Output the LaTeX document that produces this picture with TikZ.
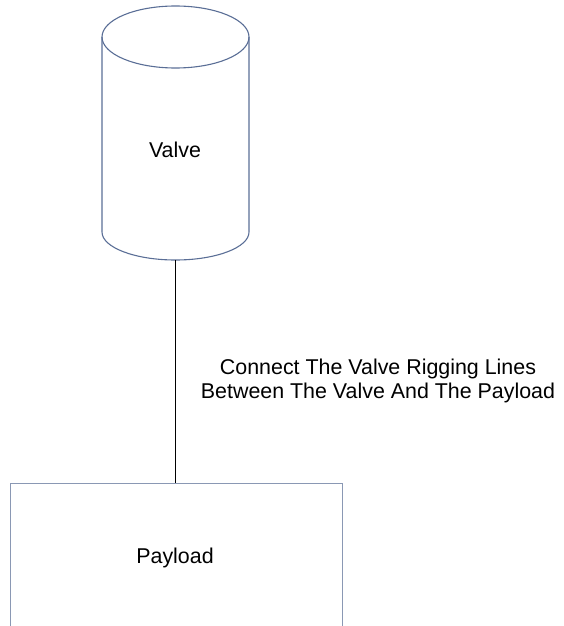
\documentclass[tikz,border=0pt]{standalone}
\usepackage{fontspec}
\setmainfont{Liberation Sans}
\definecolor{cylblue}{HTML}{5A6E96}
\definecolor{boxblue}{HTML}{8A98B4}
\begin{document}
\begin{tikzpicture}[x=1pt,y=-1pt,
  lbl/.style={inner sep=0pt, font=\fontsize{21.4}{23.5}\selectfont, text=black},
  cylline/.style={draw=cylblue, line width=1.1pt},
  boxline/.style={draw=boxblue, line width=1.2pt},
  rig/.style={draw=black, line width=0.9pt}]
\useasboundingbox (0,0) rectangle (563,626);
% Valve cylinder
\draw[cylline] (175.5,37) ellipse [x radius=73.5, y radius=31];
\draw[cylline] (102,37) -- (102,232) arc[start angle=180, end angle=0, x radius=73.5, y radius=28] -- (249,37);
\coordinate (valvebottom) at (175.5,260);
\node[lbl, anchor=base] (valve) at (175,157) {Valve};
% Payload box
\node[boxline, rectangle, minimum width=332pt, minimum height=144pt, inner sep=0pt, anchor=north west] (payload) at (9.5,482.5) {};
\node[lbl, anchor=base] (payloadtxt) at (175,563) {Payload};
% Rigging line
\draw[rig] (valvebottom) -- (valvebottom |- payload.north);
% Label
\node[lbl, align=center, anchor=north] (rigtext) at (378,359) {Connect The Valve Rigging Lines\\Between The Valve And The Payload};
\end{tikzpicture}
\end{document}
